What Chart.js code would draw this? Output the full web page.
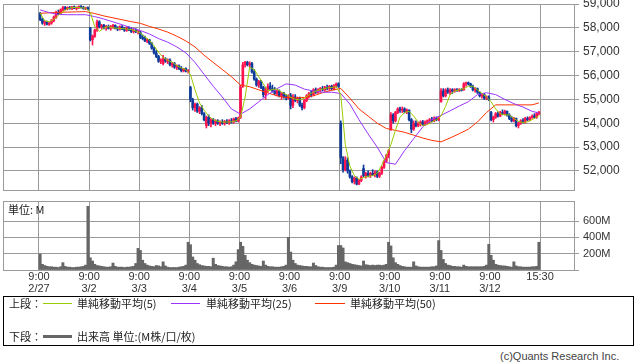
<!DOCTYPE html>
<html>
<head>
<meta charset="utf-8">
<script src="https://cdn.jsdelivr.net/npm/chart.js@4/dist/chart.umd.min.js"></script>
<style>
body { margin: 0; background: #fff; width: 638px; height: 362px; overflow: hidden; position: relative; }
canvas { position: absolute; left: 0; }
#price { top: 0; }
#vol { top: 196px; }
.t { position: absolute; font: 11px 'Noto Sans CJK JP', 'Liberation Sans', sans-serif; color: #222; white-space: nowrap; line-height: 12px; }
.ln { position: absolute; height: 1px; }
#legend { position: absolute; left: 3px; top: 296px; width: 629px; height: 48px; border: 1px solid #000; }
</style>
</head>
<body>
<canvas id="price" width="638" height="195"></canvas>
<canvas id="vol" width="638" height="100"></canvas>
<div class="t" style="left:8px;top:203px;">単位: M</div>
<div id="legend"></div>
<div class="t" style="left:9px;top:297px;">上段：</div>
<div class="ln" style="left:43px;top:303px;width:29px;background:#99cc00;"></div>
<div class="t" style="left:77px;top:297px;">単純移動平均(5)</div>
<div class="ln" style="left:171px;top:303px;width:29px;background:#9933ff;"></div>
<div class="t" style="left:206px;top:297px;">単純移動平均(25)</div>
<div class="ln" style="left:315px;top:303px;width:30px;background:#ff3300;"></div>
<div class="t" style="left:350px;top:297px;">単純移動平均(50)</div>
<div class="t" style="left:9px;top:330px;">下段：</div>
<div class="ln" style="left:43px;top:335px;width:29px;height:3px;background:#666;"></div>
<div class="t" style="left:77px;top:330px;">出来高 単位:(M株/口/枚)</div>
<div class="t" style="left:500px;top:350px;color:#444;font-family:'Liberation Sans',sans-serif;">(c)Quants Research Inc.</div>
<script>
// 15-minute bars, 22 per session (9:00-11:30, 12:30-15:30)
const dates = ['2/27', '3/2', '3/3', '3/4', '3/5', '3/6', '3/9', '3/10', '3/11', '3/12'];
const barsPerDay = 22;

const opens = [
  58600,58350,58200,58250,58150,58200,58300,58450,58650,58600,58750,58850,58800,58850,58820,58880,58820,58850,58900,58850,58800,58840,
  58000,57500,57650,57900,58250,58050,58100,58000,58050,57980,58050,58100,57980,57950,58050,57950,57900,58000,57920,57850,57900,57830,
  57800,57600,57550,57450,57500,57350,57150,56950,56800,56600,56500,56700,56600,56650,56450,56500,56350,56400,56300,56200,56280,56180,
  55500,55000,54650,54800,54500,54650,54400,53900,54250,54000,54150,54000,54100,54000,54050,54000,54080,54020,54100,54050,54180,54100,
  54250,55550,56450,56550,56450,56500,56150,55850,55600,55750,55500,55200,55400,55550,55450,55350,55250,55350,55150,55250,55100,55050,
  55150,54750,55100,54950,55050,54750,54650,54950,55150,55250,55200,55400,55300,55400,55450,55400,55500,55450,55550,55450,55580,55650,
  54000,52550,52050,52450,52000,51750,51550,51700,51450,51600,52100,51800,51900,51800,51900,51850,51950,51780,51900,52150,52400,52650,
  53750,54350,54100,54450,54600,54550,54600,54480,54550,54150,53750,54000,53900,54000,54050,53950,54050,54100,54150,54100,54200,54150,
  54900,55350,55150,55400,55300,55400,55350,55400,55380,55420,55400,55650,55700,55650,55550,55400,55450,55300,55150,55200,55050,55100,
  54450,54150,54250,54400,54300,54450,54400,54500,54350,54200,54100,54200,53900,54000,54100,54050,54200,54150,54250,54300,54250,54400
];
const highs = [
  58650,58400,58300,58280,58250,58350,58500,58700,58750,58800,58900,58900,58880,58900,58900,58920,58880,58920,58930,58900,58870,58880,
  58020,57700,57950,58330,58300,58150,58150,58100,58120,58100,58150,58130,58050,58080,58100,58020,58050,58050,58000,57950,57960,57900,
  57850,57700,57650,57550,57520,57400,57200,57050,56850,56700,56850,56750,56700,56700,56550,56550,56450,56450,56380,56300,56320,56250,
  55550,55050,54850,54850,54700,54750,54450,54300,54350,54200,54200,54150,54150,54100,54150,54120,54150,54150,54200,54220,54250,54260,
  55600,56550,56600,56600,56580,56550,56250,55900,55800,55800,55550,55500,55650,55700,55600,55500,55400,55400,55300,55300,55200,55200,
  55250,55200,55200,55100,55100,54850,55000,55200,55300,55350,55450,55480,55450,55500,55550,55550,55600,55580,55600,55620,55690,55700,
  54100,52600,52600,52550,52050,51800,51750,51750,51650,51800,52250,51950,52000,51950,52050,52000,52000,51950,52200,52450,52700,52900,
  54450,54400,54500,54650,54680,54680,54650,54600,54560,54200,54100,54100,54050,54100,54120,54100,54140,54200,54250,54270,54270,54280,
  55450,55450,55450,55480,55450,55450,55450,55450,55450,55450,55700,55730,55730,55680,55600,55500,55480,55320,55250,55250,55150,55150,
  54500,54300,54450,54480,54500,54560,54550,54520,54400,54300,54250,54220,54050,54150,54200,54250,54270,54270,54350,54400,54450,54500
];
const lows = [
  58300,58150,58100,58120,58100,58150,58250,58400,58550,58550,58700,58750,58750,58780,58760,58800,58750,58800,58820,58780,58760,58750,
  57450,57280,57600,57850,58000,57950,57950,57900,57950,57900,57980,57950,57880,57900,57920,57850,57850,57880,57800,57780,57800,57750,
  57550,57500,57420,57380,57300,57100,56900,56750,56550,56500,56450,56550,56500,56400,56350,56300,56250,56250,56150,56150,56150,56100,
  54900,54550,54500,54450,54400,54350,54100,53800,53900,53850,53950,53900,53950,53900,53950,53920,53980,53950,54000,54000,54050,54050,
  54200,55500,56350,56400,56350,56100,55800,55550,55500,55450,55100,55000,55300,55400,55300,55200,55150,55100,55000,55050,54980,55000,
  54600,54650,54900,54850,54700,54560,54600,54900,55050,55100,55150,55250,55250,55300,55350,55350,55400,55380,55400,55400,55500,55500,
  52300,51950,52000,51900,51700,51500,51450,51410,51420,51550,51750,51700,51750,51720,51800,51750,51720,51720,51850,52100,52350,52550,
  53700,54000,54050,54400,54450,54450,54430,54400,54100,53600,53700,53850,53850,53880,53900,53900,53950,54000,54050,54050,54100,54100,
  54880,55100,55100,55250,55200,55250,55300,55330,55330,55350,55380,55550,55600,55500,55350,55300,55250,55100,55050,55000,54980,54950,
  54100,54050,54200,54250,54270,54350,54350,54300,54150,54050,54050,53850,53800,53950,54000,54000,54100,54100,54200,54220,54200,54350
];
const closes = [
  58350,58200,58250,58150,58200,58300,58450,58650,58600,58750,58850,58800,58850,58820,58880,58820,58850,58900,58850,58800,58840,58800,
  57500,57650,57900,58250,58050,58100,58000,58050,57980,58050,58100,57980,57950,58050,57950,57900,58000,57920,57850,57900,57830,57850,
  57600,57550,57450,57500,57350,57150,56950,56800,56600,56650,56700,56600,56650,56450,56500,56350,56400,56300,56200,56280,56180,56200,
  55000,54650,54800,54500,54650,54400,54150,54250,54000,54150,54000,54100,54000,54050,54000,54080,54020,54100,54050,54180,54100,54200,
  55500,56450,56550,56450,56500,56150,55850,55600,55750,55500,55200,55400,55550,55450,55350,55250,55350,55150,55250,55100,55050,55150,
  54750,55100,54950,55050,54750,54650,54950,55150,55250,55200,55400,55300,55400,55450,55400,55500,55450,55550,55450,55580,55650,55550,
  52550,52050,52450,52000,51750,51550,51700,51450,51600,51750,51800,51900,51800,51900,51850,51950,51780,51900,52150,52400,52650,52850,
  54350,54100,54450,54600,54550,54600,54480,54550,54150,53750,54000,53900,54000,54050,53950,54050,54100,54150,54100,54200,54150,54250,
  55350,55150,55400,55300,55400,55350,55400,55380,55420,55380,55650,55700,55650,55550,55400,55450,55300,55150,55200,55050,55100,55000,
  54150,54250,54400,54300,54450,54400,54500,54350,54200,54100,54200,53900,54000,54100,54050,54200,54150,54250,54300,54250,54400,54470
];
// volume, millions
const volumes = [
  195,70,55,45,40,40,35,35,30,40,90,45,35,35,30,30,35,35,40,45,60,780,
  150,110,70,55,50,45,40,35,35,40,85,45,35,35,35,30,35,35,40,45,80,265,
  240,120,80,60,50,45,40,55,50,40,100,50,35,30,30,30,30,35,40,45,60,340,
  310,160,120,80,65,55,50,45,45,40,145,70,55,50,45,40,40,35,40,60,100,250,
  340,290,180,120,90,70,60,55,50,45,110,60,45,40,40,35,35,35,40,45,60,400,
  220,120,80,60,55,50,45,45,40,40,85,55,40,35,35,30,30,30,30,35,60,300,
  300,270,100,90,80,70,65,60,55,50,110,65,60,55,60,55,60,60,55,60,70,340,
  295,150,90,70,55,45,40,35,35,35,100,50,40,35,35,35,35,35,40,40,50,360,
  240,130,80,60,55,45,45,40,40,35,60,45,40,40,40,40,40,40,40,45,60,315,
  180,120,70,60,55,50,50,45,40,35,100,50,40,40,35,35,35,35,40,40,45,340
];

// moving averages (ma5 every 2 bars, others every 4; last point = final bar)
const ma5 = [
  58620,58300,58250,58350,58520,58680,58800,58850,58860,58840,58830,
  58650,58050,57850,58000,58050,58000,57980,57970,57950,57930,57870,
  57780,57620,57480,57250,56980,56760,56640,56560,56420,56320,56250,
  56050,55400,54850,54550,54300,54150,54080,54050,54050,54060,54100,
  54250,55100,56350,56250,55950,55650,55350,55420,55430,55300,55200,
  55100,55000,54980,55050,55200,55300,55380,55430,55480,55500,55540,
  55200,53100,52200,51800,51650,51720,51780,51800,51900,52250,52650,
  53100,53700,54250,54450,54500,54300,54050,53900,53950,54050,54150,
  54300,54700,55200,55350,55400,55450,55550,55550,55400,55250,55100,
  54900,54600,54400,54350,54350,54200,54080,54030,54060,54150,54250,
  54320
];
const ma25 = [
  58750,58640,58560,58550,58550,58550,
  58470,58370,58250,58130,58000,
  57890,57740,57550,57400,57200,56950,
  56550,56050,55550,55100,54600,
  54380,54600,54900,55200,55450,55650,
  55600,55430,55350,55300,55300,
  55250,54800,54150,53550,53000,52350,
  52280,52850,53350,53850,54150,
  54330,54520,54720,54900,55200,55280,
  55200,55000,54820,54680,54500,
  54430
];
const ma50 = [
  58610,58630,58650,58660,58670,58680,
  58600,58500,58420,58340,58260,
  58190,58060,57950,57820,57650,57450,
  57200,56850,56550,56250,55950,
  55600,55530,55400,55270,55150,55080,
  55060,55080,55150,55280,55380,
  55460,55050,54600,54300,54000,53780,
  53700,53620,53500,53380,53280,
  53220,53380,53560,53750,54050,54450,
  54770,54770,54770,54770,54770,
  54850
];

const N = closes.length;
const xOf = i => i + 0.5;
const dayTicks = dates.map((d, i) => i * barsPerDay).concat([N]);
const upColor = '#ff1450', downColor = '#0f3c9a';
const gridColor = '#9a9a9a';
const xMin = -15.8, xMax = 234.9;

const candleColors = closes.map((c, i) => c >= opens[i] ? upColor : downColor);
const wickData = highs.map((h, i) => ({ x: xOf(i), y: [lows[i], h] }));
const bodyData = opens.map((o, i) => ({ x: xOf(i), y: [Math.min(o, closes[i]), Math.max(o, closes[i]) + (o === closes[i] ? 15 : 0)] }));
const maData = (vals, step) => vals.map((v, i) => ({ x: xOf(Math.min(i * step, N - 1)), y: v }));
const volData = volumes.map((v, i) => ({ x: xOf(i), y: v }));

const frame = {
  id: 'frame',
  beforeDatasetsDraw(chart) {
    const { ctx, chartArea: a } = chart;
    ctx.save();
    ctx.strokeStyle = gridColor;
    ctx.lineWidth = 1;
    const l = Math.round(a.left) + 0.5, t = Math.round(a.top) + 0.5;
    ctx.strokeRect(l, t, Math.round(a.right) - Math.round(a.left), Math.round(a.bottom) - Math.round(a.top));
    ctx.restore();
  }
};

const setTicks = list => scale => { scale.ticks = list.map(v => ({ value: v })); };
const fixY = scale => { scale.width = 64; scale.paddingTop = 0; scale.paddingBottom = 0; };

new Chart(document.getElementById('price'), {
  type: 'bar',
  data: {
    datasets: [
      { type: 'line', data: maData(ma5, 2), borderColor: '#99cc00', borderWidth: 1, pointRadius: 0, order: 0 },
      { type: 'line', data: maData(ma25, 4), borderColor: '#9933ff', borderWidth: 1, pointRadius: 0, order: 0 },
      { type: 'line', data: maData(ma50, 4), borderColor: '#ff3300', borderWidth: 1, pointRadius: 0, order: 0 },
      { data: bodyData, backgroundColor: candleColors, barThickness: 2, grouped: false, order: 1 },
      { data: wickData, backgroundColor: candleColors, barThickness: 1, grouped: false, order: 2 }
    ]
  },
  options: {
    responsive: false,
    animation: false,
    layout: { padding: { left: 3, top: 4, right: 0, bottom: 5 } },
    plugins: { legend: { display: false }, tooltip: { enabled: false } },
    scales: {
      x: {
        type: 'linear', min: xMin, max: xMax, offset: false,
        afterBuildTicks: setTicks(dayTicks),
        afterFit: s => { s.height = 0; },
        grid: { color: gridColor, drawTicks: false, offset: false },
        border: { display: false },
        ticks: { display: false }
      },
      y: {
        position: 'right', min: 51200, max: 59000,
        afterBuildTicks: setTicks([52000, 53000, 54000, 55000, 56000, 57000, 58000, 59000]),
        afterFit: fixY,
        grid: { color: gridColor, tickLength: 5 },
        border: { color: gridColor },
        ticks: {
          padding: 4, color: '#333',
          font: { family: 'Liberation Sans', size: 12 },
          callback: v => v.toLocaleString('en-US')
        }
      }
    }
  },
  plugins: [frame]
});

new Chart(document.getElementById('vol'), {
  type: 'bar',
  data: {
    datasets: [
      { data: volData, backgroundColor: '#666666', barThickness: 2.3, grouped: false }
    ]
  },
  options: {
    responsive: false,
    animation: false,
    layout: { padding: { left: 3, top: 5, right: 0, bottom: 0 } },
    plugins: { legend: { display: false }, tooltip: { enabled: false } },
    scales: {
      x: {
        type: 'linear', min: xMin, max: xMax, offset: false,
        afterBuildTicks: setTicks(dayTicks),
        afterFit: s => { s.height = 26; },
        grid: { color: gridColor, drawTicks: false, offset: false },
        border: { display: false },
        ticks: {
          padding: 1, color: '#333', maxRotation: 0, autoSkip: false,
          font: { family: 'Liberation Sans', size: 11, lineHeight: 1.1 },
          callback: v => {
            const d = Math.round(v / barsPerDay);
            return d < dates.length ? ['9:00', dates[d]] : '15:30';
          }
        }
      },
      y: {
        position: 'right', min: 0, max: 845,
        afterBuildTicks: setTicks([0, 200, 400, 600]),
        afterFit: fixY,
        grid: { color: gridColor, tickLength: 5 },
        border: { color: gridColor },
        ticks: {
          padding: 4, color: '#333',
          font: { family: 'Liberation Sans', size: 11 },
          callback: v => v ? v + 'M' : ''
        }
      }
    }
  },
  plugins: [frame]
});
</script>
</body>
</html>
